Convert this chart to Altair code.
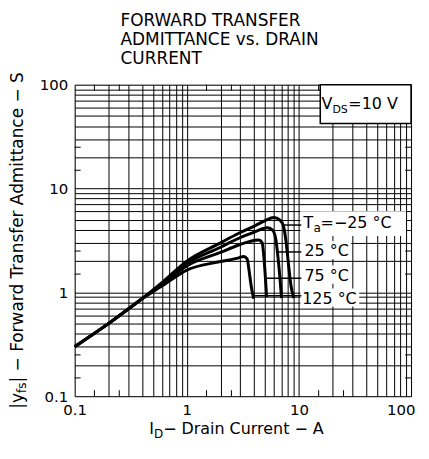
import altair as alt
import pandas as pd

# ---------------- data ----------------
temps = ["-25", "25", "75", "125"]

common_id = [0.1, 0.2, 0.4]
common_yfs = [0.30, 0.50, 0.87]

id_m25 = [0.6, 1.0, 2.0, 2.91, 4.0, 5.0, 5.95, 6.8, 7.3, 7.7, 8.1, 8.5, 9.0]
yfs_m25 = [1.24, 2.0, 3.0, 3.71, 4.35, 4.92, 5.25, 4.95, 4.3, 3.0, 1.8, 1.15, 0.88]

id_25 = [0.6, 1.0, 2.0, 2.91, 4.0, 5.2, 5.8, 6.2, 6.5, 6.8, 7.0]
yfs_25 = [1.21, 1.9, 2.72, 3.32, 3.8, 4.19, 4.0, 3.3, 2.2, 1.3, 0.88]

id_75 = [0.6, 1.0, 2.0, 2.91, 3.6, 4.38, 4.7, 4.85, 5.0, 5.15]
yfs_75 = [1.19, 1.8, 2.43, 2.86, 3.08, 3.19, 3.0, 2.3, 1.5, 0.9]

id_125 = [0.6, 1.0, 2.0, 2.91, 3.22, 3.45, 3.6, 3.75, 3.95]
yfs_125 = [1.15, 1.64, 1.98, 2.15, 2.22, 2.1, 1.6, 1.15, 0.87]

# leader lines from each curve to its label
leader_yfs = [4.45, 2.45, 1.37, 0.93]
leader_id_from = [7.2, 6.43, 5.03, 3.95]
leader_id_to = [10.5, 10.5, 10.5, 10.5]

# temperature labels
label_main = ["T", "25 °C", "75 °C", "125 °C"]
label_id = [11.0, 11.2, 11.2, 10.7]
label_yfs = [4.17, 2.25, 1.29, 0.778]
ta_sub_text, ta_sub_id, ta_sub_yfs = "a", 13.5, 3.81
ta_rest_text, ta_rest_id, ta_rest_yfs = "=−25 °C", 15.6, 4.17

# white boxes behind labels
box_id0 = [10.3, 10.3, 10.3, 10.3]
box_id1 = [90, 29.3, 29.3, 34.5]
box_yfs0 = [3.49, 2.10, 1.21, 0.73]
box_yfs1 = [6.05, 3.12, 1.81, 1.09]

# V_DS box
vds_box = dict(x=15.5, x2=100, y=42.3, y2=100)
vds_parts = [("V", 15.9, 58.9, 16), ("DS", 19.9, 53.9, 11), ("=10 V", 27.6, 58.9, 16)]

title_lines = ["FORWARD TRANSFER", "ADMITTANCE vs. DRAIN", "CURRENT"]
grid_vals = [round(m * 10 ** e, 6) for e in (-1, 0, 1) for m in range(1, 10)] + [100]
minor_ticks = [0.15, 0.25, 1.5, 2.5, 15, 25]

W, H = 338, 313
FONT = "DejaVu Sans"

# ---------------- scales & axes ----------------
xs = alt.Scale(type="log", domain=[0.1, 100], nice=False)
ys = alt.Scale(type="log", domain=[0.1, 100], nice=False)
lab_expr = "abs(log(datum.value)/LN10 - round(log(datum.value)/LN10)) < 0.01 ? datum.label : ''"
common_axis = dict(values=grid_vals, grid=True, gridColor="black", gridWidth=1,
                   gridOpacity=1, ticks=False, domain=False, format="~g",
                   labelExpr=lab_expr, labelFont=FONT, labelFontSize=15,
                   labelColor="black", labelOverlap=False, labelBound=False,
                   labelFlush=False, title=None)
ax_x = alt.Axis(labelPadding=6,
                labelAlign={"condition": {"test": "datum.value >= 99", "value": "right"},
                            "value": "center"},
                labelOffset={"condition": {"test": "datum.value >= 99", "value": 4},
                             "value": 0},
                **common_axis)
ax_y = alt.Axis(labelPadding=7, **common_axis)


def X(f="x"):
    return alt.X(f"{f}:Q", scale=xs, axis=ax_x)


def Y(f="y"):
    return alt.Y(f"{f}:Q", scale=ys, axis=ax_y)


# ---------------- build tables ----------------
rows = []
series = [(temps[0], id_m25, yfs_m25), (temps[1], id_25, yfs_25),
          (temps[2], id_75, yfs_75), (temps[3], id_125, yfs_125)]
for t, xi, yi in series:
    xx = common_id + xi
    yy = common_yfs + yi
    for k, (a, b) in enumerate(zip(xx, yy)):
        rows.append({"x": a, "y": b, "s": t, "o": k})
curves_df = pd.DataFrame(rows)

boxes_df = pd.DataFrame({"x": box_id0, "x2": box_id1, "y": box_yfs0, "y2": box_yfs1})
leaders_df = pd.DataFrame({"x": leader_id_from, "x2": leader_id_to, "y": leader_yfs})

boxes = alt.Chart(boxes_df).mark_rect(color="white").encode(
    x=X(), x2="x2:Q", y=Y(), y2="y2:Q")

curves = alt.Chart(curves_df).mark_line(color="black", strokeWidth=3,
                                        interpolate="monotone").encode(
    x=X(), y=Y(), detail="s:N", order="o:Q")

leaders = alt.Chart(leaders_df).mark_rule(color="black", strokeWidth=1.5).encode(
    x=X(), x2="x2:Q", y=Y())

tick_df = pd.DataFrame({"x": minor_ticks, "y": minor_ticks})
t_bottom = alt.Chart(tick_df).mark_rule(color="black", strokeWidth=1).encode(
    x=X(), y=alt.value(H), y2=alt.value(H - 6))
t_top = alt.Chart(tick_df).mark_rule(color="black", strokeWidth=1).encode(
    x=X(), y=alt.value(0), y2=alt.value(6))
t_left = alt.Chart(tick_df).mark_rule(color="black", strokeWidth=1).encode(
    y=Y(), x=alt.value(0), x2=alt.value(6))
t_right = alt.Chart(tick_df).mark_rule(color="black", strokeWidth=1).encode(
    y=Y(), x=alt.value(W), x2=alt.value(W - 6))

vds_rect = alt.Chart(pd.DataFrame([vds_box])).mark_rect(
    fill="white", stroke="black", strokeWidth=1.5).encode(
    x=X(), x2="x2:Q", y=Y(), y2="y2:Q")


def data_text(s, xv, yv, size):
    return alt.Chart(pd.DataFrame({"x": [xv], "y": [yv]})).mark_text(
        text=s, align="left", baseline="alphabetic", font=FONT,
        fontSize=size, color="black").encode(x=X(), y=Y())


def px_text(s, xv, yv, size, angle=0):
    kw = dict(text=s, align="left", baseline="alphabetic", font=FONT,
              fontSize=size, color="black")
    if angle:
        kw["angle"] = angle
    return alt.Chart(pd.DataFrame({"k": [0]})).mark_text(**kw).encode(
        x=alt.value(xv), y=alt.value(yv))


texts = []
for s, xv, yv in zip(label_main, label_id, label_yfs):
    texts.append(data_text(s, xv, yv, 16))
texts.append(data_text(ta_sub_text, ta_sub_id, ta_sub_yfs, 12))
texts.append(data_text(ta_rest_text, ta_rest_id, ta_rest_yfs, 16))
for s, xv, yv, sz in vds_parts:
    texts.append(data_text(s, xv, yv, sz))

# chart title lines
for i, line in enumerate(title_lines):
    texts.append(px_text(line, 46, -59 + 19 * i, 17))

# x-axis title with subscript
texts.append(px_text("I", 75, 351, 16))
texts.append(px_text("D", 79.7, 355, 12))
texts.append(px_text(" − Drain Current − A", 88.9, 351, 16))

# y-axis title with subscript (rotated)
texts.append(px_text("|y", -51.5, 325.5, 17, angle=270))
texts.append(px_text("fs", -48.5, 309.7, 12, angle=270))
texts.append(px_text("| − Forward Transfer Admittance − S", -51.5, 299.2, 17, angle=270))

chart = alt.layer(boxes, curves, leaders, t_bottom, t_top, t_left, t_right,
                  vds_rect, *texts).properties(
    width=W, height=H,
    autosize=alt.AutoSizeParams(type="none"),
    padding={"left": 67, "top": 76, "right": 10, "bottom": 55},
).configure_view(stroke="black", strokeWidth=2).configure(background="white")

chart.save("out.html", embed_options={"renderer": "svg", "actions": False})
